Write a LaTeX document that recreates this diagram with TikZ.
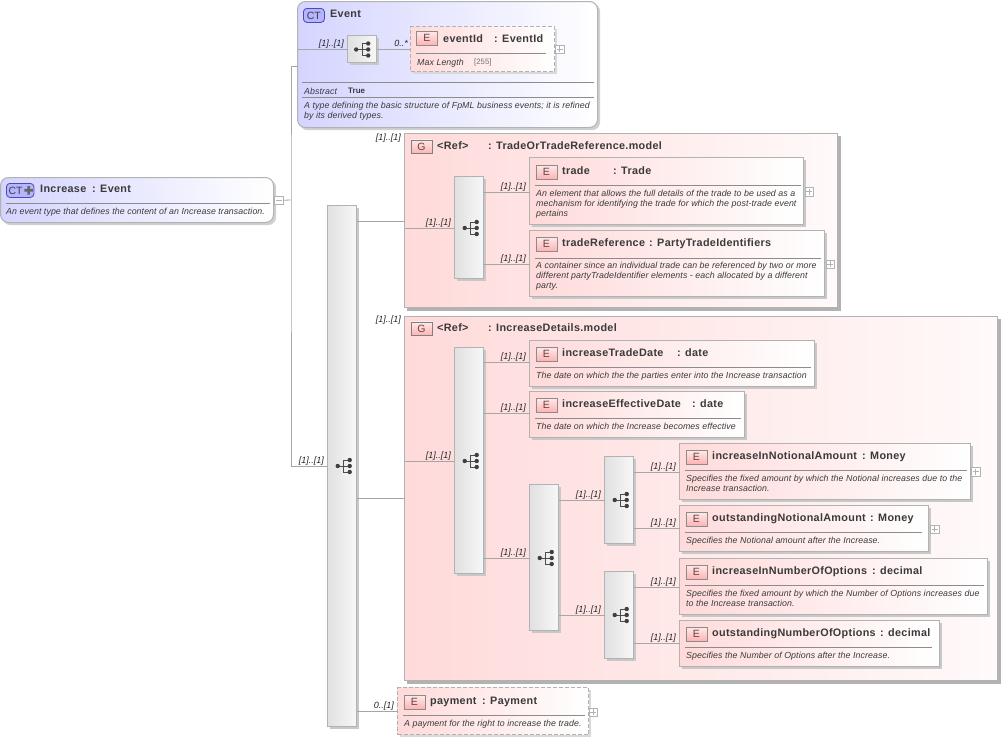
\documentclass[tikz,border=0pt]{standalone}
\usepackage{fontspec}
\setmainfont{Liberation Sans}
\newfontfamily\ttlfont[LetterSpace=3]{Liberation Sans}
\newfontfamily\dscfont[LetterSpace=1]{Liberation Sans}
\usetikzlibrary{calc}
\definecolor{linegray}{HTML}{A6A6A6}
\definecolor{bordergray}{HTML}{B2B2B2}
\definecolor{txtdark}{HTML}{3A3A3A}
\definecolor{ctblue}{HTML}{D4D4FF}
\definecolor{pinkL}{HTML}{FFDADA}
\definecolor{shgray}{HTML}{C8C8C8}
\tikzset{
  base/.style={inner sep=0pt,outer sep=0pt,anchor=north west,line width=1pt},
  ctbox/.style={base,draw=bordergray,rounded corners=8pt,left color=ctblue,right color=white},
  elbox/.style={base,draw=bordergray,left color=pinkL,right color=white},
  elopt/.style={elbox,dash pattern=on 4pt off 2pt},
  grpbox/.style={base,draw=bordergray,left color=pinkL,right color=pinkL!15!white},
  seqbox/.style={base,draw=bordergray,left color=black!12,right color=black!3},
  ctboxsh/.style={fill=shgray!85!white,rounded corners=8pt},
  elboxsh/.style={fill=shgray},
  eloptsh/.style={fill=shgray!70!white},
  grpboxsh/.style={fill=black!30,shift={(0.7,0.7)}},
  seqboxsh/.style={fill=shgray},
  conn/.style={draw=linegray,line width=0.8pt},
  hline/.style={draw=black!45,line width=0.7pt},
  card/.style={inner sep=0pt,yshift=-1pt,font=\fontsize{9}{10}\itshape\selectfont,text=black!85},
  title/.style={inner sep=0pt,anchor=mid west,yshift=-1.5pt,font=\ttlfont\fontsize{10.8}{12}\bfseries\selectfont,text=txtdark},
  desc/.style={inner sep=0pt,anchor=north west,align=left,yshift=-1.5pt,font=\dscfont\fontsize{8.8}{10.3}\itshape\selectfont,text=txtdark},
  badge/.style={inner sep=0pt,draw=black!45,line width=0.7pt,minimum width=21pt,minimum height=13.5pt,anchor=north west,
    top color=pinkL!60!white,bottom color=red!30!white,text=red!20!black!75,font=\fontsize{10.5}{12}\selectfont},
  ctbadge/.style={inner sep=0pt,draw=black!45!blue!70!white,line width=0.8pt,rounded corners=3.5pt,minimum height=14pt,anchor=north west,
    fill=ctblue!85!blue,text=black!75,font=\fontsize{10.5}{12}\selectfont},
  pm/.style={inner sep=0pt,outer sep=0pt,draw=black!30,fill=white,line width=0.6pt,minimum size=8.5pt,anchor=north west},
}
% name, style, x1, y1, x2, y2
\newcommand\bx[6]{\pgfmathsetmacro\bw{#5-#3}\pgfmathsetmacro\bh{#6-#4}%
  \fill[#2sh] (#3+1.5,#4+1.5) rectangle (#5+2.1,#6+2.1);
  \node[#2,minimum width=\bw pt,minimum height=\bh pt] (#1) at (#3-0.5,#4-0.5) {};}
% rule inside a box: y, x1, x2
\newcommand\hr[3]{\draw[hline] (#2,#1) -- (#3,#1);}
% name, x, y, title, type x, type
\newcommand\ttl[6]{\node[title] (#1n) at (#2,#3) {#4}; \node[title] (#1t) at (#5,#3) {#6};}
% name, x, y, letter
\newcommand\bdg[4]{\node[badge] (#1b) at (#2,#3) {#4};}
% name, x, y, text
\newcommand\dsc[4]{\node[desc] (#1d) at (#2,#3) {#4};}
% name, x, y : plus/minus box
\newcommand\pls[3]{\node[pm] (#1) at (#2,#3) {};
  \draw[black!30,line width=0.7pt] ($(#1.center)+(-2.8,0)$) -- ($(#1.center)+(2.8,0)$) ($(#1.center)+(0,-2.8)$) -- ($(#1.center)+(0,2.8)$);}
\newcommand\mns[3]{\node[pm] (#1) at (#2,#3) {};
  \draw[black!30,line width=0.7pt] ($(#1.center)+(-2.8,0)$) -- ($(#1.center)+(2.8,0)$);}
% sequence icon on centre of node
\newcommand\seqicon[3]{\begin{scope}[shift={(#2,#3)}]
  \draw[black!70,line width=0.8pt] (-6,0) -- (-0.6,0) (-0.6,-6) -- (-0.6,6) (-0.6,-6) -- (6,-6) (-0.6,0) -- (6,0) (-0.6,6) -- (6,6);
  \fill[black!75] (-6.3,0) circle (2.2pt) (5.7,-6) circle (2.2pt) (5.7,0) circle (2.2pt) (5.7,6) circle (2.2pt);
  \end{scope}}
% from, to, y, label, label right x
\newcommand\cn[5]{\draw[conn] (#1.east |- 0,#3) -- (#2.west |- 0,#3);
  \node[card,anchor=mid east] at (#5,#3-6) {#4};}
\begin{document}
\begin{tikzpicture}[x=1pt,y=-1pt]
\useasboundingbox (0,0) rectangle (1003,740);
\fill[white] (0,0) rectangle (1003,740);
% Increase
\bx{inc}{ctbox}{1}{178}{274}{223}
\hr{203}{6}{270}
\node[ctbadge,minimum width=27.5pt] (incb) at (6,183) {\hspace*{-9pt}CT};
\fill[black!60] (27.3,186) rectangle (29.9,194.5) (24.4,188.9) rectangle (32.8,191.6);
\ttl{inc}{40}{188.5}{Increase}{92}{: Event}
\dsc{inc}{6}{206}{An event type that defines the content of an Increase transaction.}
\mns{incm}{274.5}{196}
% Event
\bx{ev}{ctbox}{298}{2}{598}{128}
\node[ctbadge,minimum width=21pt] (evb) at (303,8) {CT};
\ttl{ev}{330}{13.5}{Event}{362}{}
\bx{evs}{seqbox}{348}{36}{377}{63}
\seqicon{evs}{362.5}{49.5}
\bx{eid}{elopt}{411}{27}{555}{72}
\hr{53}{416}{546}
\bdg{eid}{416}{31}{E}
\ttl{eid}{443}{38}{eventId}{494}{: EventId}
\node[desc,anchor=mid west] (eidd) at (417,61) {Max Length};
\node[desc,anchor=mid west,font=\fontsize{7.8}{9}\selectfont,text=black!55] (eidv) at (474,60.5) {[255]};
\pls{eidp}{555.5}{45}
\hr{82}{302}{594}
\hr{97}{302}{594}
\node[desc,anchor=mid west] (eva) at (304,90) {Abstract};
\node[desc,anchor=mid west,font=\fontsize{8}{9}\bfseries\selectfont] (evv) at (348,89) {True};
\dsc{ev}{304}{100}{A type defining the basic structure of FpML business events; it is refined\\by its derived types.}
\draw[conn] (ev.west |- 0,49) -- (evs.west |- 0,49);
\node[card,anchor=mid east] at (344,43) {[1]..[1]};
\draw[conn] (evs.east |- 0,49) -- (eid.west |- 0,49);
\node[card,anchor=mid east] at (408,43) {0..*};
% Big sequence
\bx{main}{seqbox}{328}{206}{357}{727}
\seqicon{main}{344}{466}
\coordinate (fork) at (291,200);
\draw[conn] (incm.east) -- (fork);
\draw[conn] (ev.west |- 0,66) -| (fork) |- (main.west |- 0,466);
\node[card,anchor=mid east] at (324,460) {[1]..[1]};
% Group 1
\bx{g1}{grpbox}{405}{134}{838}{308}
\draw[conn] (main.east |- 0,221) -- (g1.west |- 0,221);
\node[card,anchor=mid east] at (401,137) {[1]..[1]};
\node[badge,draw=black!50] (g1b) at (410.5,139.5) {G};
\ttl{g1}{437}{145}{<Ref>}{488}{: TradeOrTradeReference.model}
\bx{g1s}{seqbox}{455}{177}{484}{279}
\seqicon{g1s}{471}{228}
\draw[conn] (g1.west |- 0,228) -- (g1s.west |- 0,228);
\node[card,anchor=mid east] at (451,222) {[1]..[1]};
\bx{tr}{elbox}{530}{158}{804}{225}
\hr{185}{535}{801}
\bdg{tr}{535.5}{165}{E}
\ttl{tr}{562}{170}{trade}{613}{: Trade}
\dsc{tr}{536}{188}{An element that allows the full details of the trade to be used as a\\mechanism for identifying the trade for which the post-trade event\\pertains}
\pls{trp}{805}{187.5}
\bx{trr}{elbox}{530}{231}{825}{297}
\hr{258}{535}{821}
\bdg{trr}{535.5}{237}{E}
\ttl{trr}{562}{242}{tradeReference}{649}{: PartyTradeIdentifiers}
\dsc{trr}{536}{260}{A container since an individual trade can be referenced by two or more\\different partyTradeIdentifier elements - each allocated by a different\\party.}
\pls{trrp}{826}{260}
\cn{g1s}{tr}{192}{[1]..[1]}{526}
\cn{g1s}{trr}{264}{[1]..[1]}{526}
% Group 2
\bx{g2}{grpbox}{405}{317}{998}{681}
\draw[conn] (main.east |- 0,498) -- (g2.west |- 0,498);
\node[card,anchor=mid east] at (401,319) {[1]..[1]};
\node[badge,draw=black!50] (g2b) at (410.5,321.5) {G};
\ttl{g2}{437}{327}{<Ref>}{488}{: IncreaseDetails.model}
\bx{g2s}{seqbox}{455}{348}{484}{574}
\seqicon{g2s}{471}{461}
\draw[conn] (g2.west |- 0,461) -- (g2s.west |- 0,461);
\node[card,anchor=mid east] at (451,455) {[1]..[1]};
\bx{itd}{elbox}{530}{341}{815}{387}
\hr{367}{535}{811}
\bdg{itd}{535.5}{347}{E}
\ttl{itd}{562}{352}{increaseTradeDate}{677}{: date}
\dsc{itd}{536}{370}{The date on which the the parties enter into the Increase transaction}
\bx{ied}{elbox}{530}{392}{745}{438}
\hr{418}{535}{741}
\bdg{ied}{535.5}{398}{E}
\ttl{ied}{562}{403}{increaseEffectiveDate}{692}{: date}
\dsc{ied}{536}{421}{The date on which the Increase becomes effective}
\cn{g2s}{itd}{362}{[1]..[1]}{526}
\cn{g2s}{ied}{413}{[1]..[1]}{526}
\bx{s3}{seqbox}{530}{485}{559}{631}
\seqicon{s3}{546}{558}
\cn{g2s}{s3}{558}{[1]..[1]}{526}
\bx{s4}{seqbox}{605}{457}{634}{544}
\seqicon{s4}{621}{500}
\bx{s5}{seqbox}{605}{572}{634}{659}
\seqicon{s5}{621}{615}
\cn{s3}{s4}{500}{[1]..[1]}{601}
\cn{s3}{s5}{615}{[1]..[1]}{601}
\bx{ina}{elbox}{680}{444}{971}{500}
\hr{470}{685}{967}
\bdg{ina}{685.5}{450}{E}
\ttl{ina}{712}{455}{increaseInNotionalAmount}{862}{: Money}
\dsc{ina}{686}{473}{Specifies the fixed amount by which the Notional increases due to the\\Increase transaction.}
\pls{inap}{971.5}{467.5}
\bx{ona}{elbox}{680}{506}{929}{552}
\hr{532}{685}{922}
\bdg{ona}{685.5}{512}{E}
\ttl{ona}{712}{517}{outstandingNotionalAmount}{870}{: Money}
\dsc{ona}{686}{535}{Specifies the Notional amount after the Increase.}
\pls{onap}{930.5}{525}
\bx{ino}{elbox}{680}{559}{988}{615}
\hr{585}{685}{984}
\bdg{ino}{685.5}{565}{E}
\ttl{ino}{712}{570}{increaseInNumberOfOptions}{872}{: decimal}
\dsc{ino}{686}{588}{Specifies the fixed amount by which the Number of Options increases due\\to the Increase transaction.}
\bx{ono}{elbox}{680}{621}{940}{667}
\hr{647}{685}{932}
\bdg{ono}{685.5}{627}{E}
\ttl{ono}{712}{632}{outstandingNumberOfOptions}{880}{: decimal}
\dsc{ono}{686}{650}{Specifies the Number of Options after the Increase.}
\cn{s4}{ina}{472}{[1]..[1]}{676}
\cn{s4}{ona}{528}{[1]..[1]}{676}
\cn{s5}{ino}{587}{[1]..[1]}{676}
\cn{s5}{ono}{643}{[1]..[1]}{676}
% Payment
\bx{pay}{elopt}{398}{688}{589}{735}
\hr{715}{403}{585}
\bdg{pay}{403.5}{695}{E}
\ttl{pay}{430}{700}{payment}{482}{: Payment}
\dsc{pay}{404}{718}{A payment for the right to increase the trade.}
\pls{payp}{589}{708}
\cn{main}{pay}{711}{0..[1]}{394}
\end{tikzpicture}
\end{document}
